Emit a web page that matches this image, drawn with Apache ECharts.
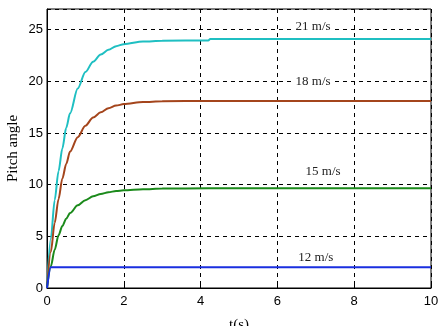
<!DOCTYPE html>
<html>
<head>
<meta charset="utf-8">
<script src="https://cdn.jsdelivr.net/npm/echarts@6/dist/echarts.min.js"></script>
<style>
  html, body { margin: 0; padding: 0; background: #fff; }
  #chart { width: 439px; height: 326px; }
</style>
</head>
<body>
<div id="chart"></div>
<script>
// time samples (s)
var time = [0, 0.1, 0.2, 0.3, 0.4, 0.5, 0.6, 0.8, 1.0, 1.2, 1.4, 1.6, 1.8, 2.0, 2.5, 3.0, 4.2, 4.25, 10];
// pitch angle for each wind speed
var pitch21 = [0, 4.8, 8.5, 11.3, 13.5, 15.5, 16.9, 19.3, 20.9, 21.9, 22.6, 23.05, 23.4, 23.6, 23.85, 23.93, 23.96, 24.09, 24.1];
var pitch18 = [0, 3.5, 6.3, 8.6, 10.6, 12.0, 13.2, 14.6, 15.7, 16.5, 17.0, 17.4, 17.65, 17.8, 18.0, 18.07, 18.1, 18.1, 18.1];
var pitch15 = [0, 2.1, 3.7, 5.1, 6.0, 6.7, 7.25, 8.0, 8.5, 8.88, 9.1, 9.27, 9.38, 9.45, 9.56, 9.62, 9.65, 9.65, 9.65];
var pitch12 = [0, 2, 2, 2, 2, 2, 2, 2, 2, 2, 2, 2, 2, 2, 2, 2, 2, 2, 2];

var speedNames = ['21 m/s', '18 m/s', '15 m/s', '12 m/s'];
var nameT = [6.93, 6.93, 7.19, 7.0];
var nameY = [25.3, 20.0, 11.3, 2.97];

var xTicks = [0, 2, 4, 6, 8, 10];
var yTicks = [0, 5, 10, 15, 20, 25];

var colors = ['#1fbfc2', '#a4451c', '#1b8a1b', '#1a2fe0'];
var allSeries = [pitch21, pitch18, pitch15, pitch12];

function pairs(ys) {
    return time.map(function (t, i) { return [t, ys[i]]; });
}

var series = allSeries.map(function (ys, k) {
    return {
        name: speedNames[k],
        type: 'line',
        data: pairs(ys),
        showSymbol: false,
        smooth: 0.3,
        smoothMonotone: 'x',
        lineStyle: { color: colors[k], width: 2 },
        z: 3,
        markPoint: {
            symbol: 'circle',
            symbolSize: 1,
            itemStyle: { color: 'rgba(0,0,0,0)' },
            label: {
                show: true,
                position: 'inside',
                formatter: speedNames[k],
                fontFamily: 'Liberation Serif',
                fontSize: 13,
                color: '#222',
                backgroundColor: '#fff',
                padding: [0, 2]
            },
            data: [{ coord: [nameT[k], nameY[k]] }]
        }
    };
});

var myChart = echarts.init(document.getElementById('chart'));
var option = {
    animation: false,
    grid: {
        left: 47, right: 8, top: 9, bottom: 38,
        containLabel: false,
        outerBoundsMode: 'none',
        show: true, borderColor: '#000', borderWidth: 1
    },
    xAxis: {
        type: 'value',
        min: 0, max: 10, interval: 2,
        name: 't(s)',
        nameLocation: 'middle',
        nameGap: 30,
        nameMoveOverlap: false,
        nameTextStyle: { fontFamily: 'Liberation Serif', fontSize: 15, color: '#000' },
        axisLine: { lineStyle: { color: '#000' } },
        axisTick: { inside: true, length: 4, lineStyle: { color: '#000' } },
        axisLabel: { color: '#000', fontFamily: 'Liberation Sans', fontSize: 13, margin: 7 },
        splitLine: { show: true, lineStyle: { color: '#000', type: [4, 4], width: 1 } }
    },
    yAxis: {
        type: 'value',
        min: 0, max: 27, interval: 5,
        name: 'Pitch angle',
        nameLocation: 'middle',
        nameGap: 26,
        nameMoveOverlap: false,
        nameTextStyle: { fontFamily: 'Liberation Serif', fontSize: 15, color: '#000' },
        axisLine: { show: true, lineStyle: { color: '#000' } },
        axisTick: { show: true, inside: true, length: 4, lineStyle: { color: '#000' } },
        axisLabel: { color: '#000', fontFamily: 'Liberation Sans', fontSize: 13, margin: 4, showMaxLabel: false,
            formatter: function (v) { return yTicks.indexOf(v) >= 0 ? v : ''; } },
        splitLine: { show: true, lineStyle: { color: '#000', type: [4, 4], width: 1 } }
    },
    series: series
};
myChart.setOption(option);
</script>
</body>
</html>
